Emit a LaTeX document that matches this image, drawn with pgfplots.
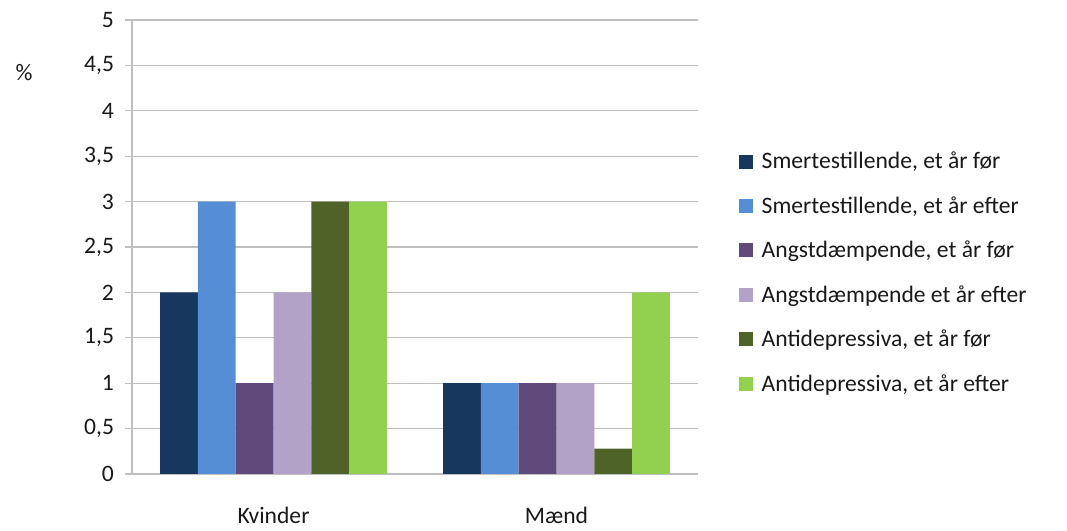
\documentclass[border=0pt]{standalone}
\usepackage{fontspec}
\setmainfont{Carlito}
\usepackage{pgfplots}
\pgfplotsset{compat=1.18}
\definecolor{c1}{HTML}{17375E}
\definecolor{c2}{HTML}{558ED5}
\definecolor{c3}{HTML}{604A7B}
\definecolor{c4}{HTML}{B3A2C7}
\definecolor{c5}{HTML}{4F6228}
\definecolor{c6}{HTML}{92D050}
\definecolor{gridc}{HTML}{BFBFBF}
\newcommand{\chartfont}{\fontsize{17.7}{21}\selectfont}
\begin{document}
\begin{tikzpicture}[x=0.75pt,y=0.75pt]
\useasboundingbox (0,0) rectangle (1067,531);
\begin{axis}[
    at={(99pt,42.75pt)}, anchor=south west,
    scale only axis, width=424.5pt, height=340.5pt,
    ybar=0pt, bar width=28.35pt,
    xmin=-0.5, xmax=1.5, ymin=0, ymax=5,
    xtick={0,1}, xticklabels={Kvinder,Mænd},
    major x tick style={draw=none},
    extra x ticks={-0.5,0.5,1.5}, extra x tick labels={},
    extra x tick style={major tick length=7pt, tick align=outside, tick style={draw=gridc, line width=0.8pt}},
    ytick={0,0.5,...,5},
    ymajorgrids, grid style={gridc, line width=0.8pt},
    tick align=outside, major tick length=5pt,
    y tick style={gridc, line width=0.8pt},
    axis x line*=bottom, axis y line*=left,
    axis line style={gridc, line width=1pt},
    /pgf/number format/use comma,
    /pgf/number format/assume math mode=true,
    tick label style={font=\chartfont, text=black!90},
    yticklabel style={xshift=-5pt},
    xticklabel style={yshift=-16pt},
    legend style={at={(1.065,0.4434)}, anchor=west, draw=none, fill=none,
        font=\chartfont, text=black!90, row sep=15.3pt, legend cell align=left},
    legend image code/.code={\fill[#1] (0pt,-5.25pt) rectangle (10.5pt,5.25pt); \path (15pt,0pt);},
    clip=false,
]
\addplot[fill=c1, draw=none] coordinates {(0,2) (1,1)};
\addplot[fill=c2, draw=none] coordinates {(0,3) (1,1)};
\addplot[fill=c3, draw=none] coordinates {(0,1) (1,1)};
\addplot[fill=c4, draw=none] coordinates {(0,2) (1,1)};
\addplot[fill=c5, draw=none] coordinates {(0,3) (1,0.28)};
\addplot[fill=c6, draw=none] coordinates {(0,3) (1,2)};
\legend{{Smertestillende, et år før}, {Smertestillende, et år efter}, {Angstdæmpende, et år før}, {Angstdæmpende et år efter}, {Antidepressiva, et år før}, {Antidepressiva, et år efter}}
\node[font=\chartfont, text=black!90] at (rel axis cs:0,0.885) [xshift=-81pt] {\%};
\end{axis}
\end{tikzpicture}
\end{document}
